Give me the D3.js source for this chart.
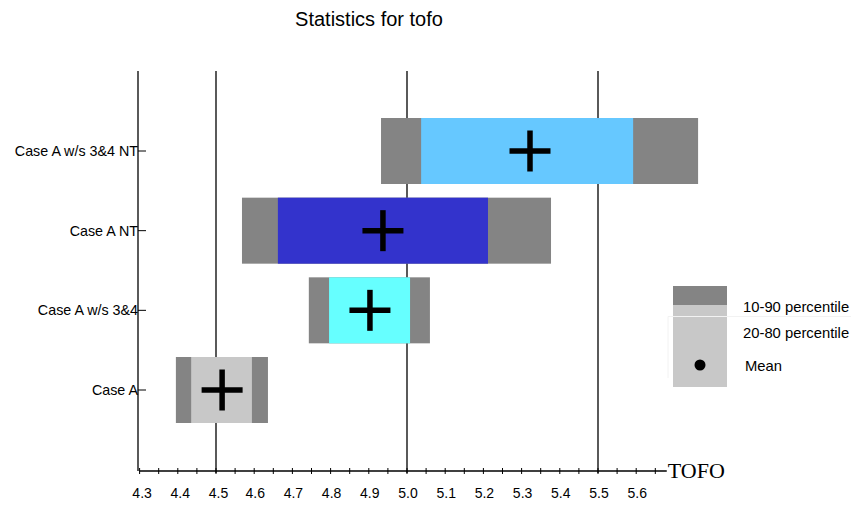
<!DOCTYPE html>
<html>
<head>
<meta charset="utf-8">
<script src="https://cdn.jsdelivr.net/npm/d3@7"></script>
<style>
  body { margin: 0; background: #fff; }
  svg { display: block; font-family: "Liberation Sans", Arial, sans-serif; }
</style>
</head>
<body>
<svg id="chart" width="851" height="507"></svg>
<script>
// Categories, top to bottom
const categories = ["Case A w/s 3&4 NT", "Case A NT", "Case A w/s 3&4", "Case A"];
// Percentile bounds for each case
const p10 = [4.932, 4.568, 4.743, 4.395];
const p20 = [5.037, 4.662, 4.796, 4.435];
const p80 = [5.592, 5.212, 5.008, 4.594];
const p90 = [5.762, 5.377, 5.060, 4.636];
const means = [5.322, 4.937, 4.903, 4.516];
const innerColors = ["#66c8ff", "#3333cc", "#66ffff", "#c8c8c8"];
const gridValues = [4.5, 5.0, 5.5];
const tickLabels = ["4.3","4.4","4.5","4.6","4.7","4.8","4.9","5.0","5.1","5.2","5.3","5.4","5.5","5.6"];
const legendLabels = ["10-90 percentile", "20-80 percentile", "Mean"];

const svg = d3.select("#chart");
const outerGray = "#848484";

const x = d3.scaleLinear().domain([4.5, 5.5]).range([216, 598]);
const y = d3.scalePoint().domain(categories).range([151, 390]);
const barH = 66;
const axisY = 471, topY = 71, leftX = 138;

// Title
svg.append("text")
  .attr("x", 369).attr("y", 26)
  .attr("text-anchor", "middle")
  .attr("font-size", 20)
  .text("Statistics for tofo");

// Vertical reference lines
svg.append("g").selectAll("line").data(gridValues).join("line")
  .attr("x1", d => x(d)).attr("x2", d => x(d))
  .attr("y1", topY).attr("y2", axisY + 2)
  .attr("stroke", "#000").attr("stroke-width", 1.3);

// Left axis line
svg.append("line")
  .attr("x1", leftX).attr("x2", leftX)
  .attr("y1", topY).attr("y2", axisY)
  .attr("stroke", "#000").attr("stroke-width", 1.3);

// Category labels and ticks
const yg = svg.append("g");
yg.selectAll("line").data(categories).join("line")
  .attr("x1", leftX).attr("x2", leftX + 8)
  .attr("y1", d => y(d)).attr("y2", d => y(d))
  .attr("stroke", "#000");
yg.selectAll("text").data(categories).join("text")
  .attr("x", leftX).attr("y", d => y(d) + 5)
  .attr("text-anchor", "end")
  .attr("font-size", 14.3)
  .text(d => d);

// Bars
const rows = categories.map((c, i) => ({c, p10: p10[i], p20: p20[i], p80: p80[i], p90: p90[i], mean: means[i], color: innerColors[i]}));
const bars = svg.append("g").selectAll("g").data(rows).join("g");
bars.append("rect")
  .attr("x", d => x(d.p10)).attr("width", d => x(d.p90) - x(d.p10))
  .attr("y", d => y(d.c) - barH / 2).attr("height", barH)
  .attr("fill", outerGray);
bars.append("rect")
  .attr("x", d => x(d.p20)).attr("width", d => x(d.p80) - x(d.p20))
  .attr("y", d => y(d.c) - barH / 2).attr("height", barH)
  .attr("fill", d => d.color);
// Mean crosses
const cs = 20.5;
bars.append("line")
  .attr("x1", d => x(d.mean) - cs).attr("x2", d => x(d.mean) + cs)
  .attr("y1", d => y(d.c)).attr("y2", d => y(d.c))
  .attr("stroke", "#000").attr("stroke-width", 5.5);
bars.append("line")
  .attr("x1", d => x(d.mean)).attr("x2", d => x(d.mean))
  .attr("y1", d => y(d.c) - cs).attr("y2", d => y(d.c) + cs)
  .attr("stroke", "#000").attr("stroke-width", 5.5);

// Bottom axis
const xAxisG = svg.append("g");
xAxisG.append("line")
  .attr("x1", x(4.3)).attr("x2", x(5.68))
  .attr("y1", axisY).attr("y2", axisY)
  .attr("stroke", "#000").attr("stroke-width", 1.3);
const minorTicks = d3.range(0, 28).map(i => +(4.3 + i * 0.05).toFixed(2));
xAxisG.selectAll("line.tick").data(minorTicks).join("line")
  .attr("class", "tick")
  .attr("x1", d => x(d)).attr("x2", d => x(d))
  .attr("y1", axisY - 3).attr("y2", axisY + 3)
  .attr("stroke", "#000");
xAxisG.selectAll("text").data(tickLabels).join("text")
  .attr("x", (d, i) => x(+d) + (i < 3 ? 2.5 : 1))
  .attr("y", axisY + 27)
  .attr("text-anchor", "middle")
  .attr("font-size", 14)
  .text(d => d);
svg.append("text")
  .attr("x", x(5.68) + 1).attr("y", axisY + 7)
  .attr("font-family", "'Liberation Serif', 'Times New Roman', serif")
  .attr("font-size", 22)
  .text("TOFO");

// Legend
const lg = svg.append("g");
lg.append("rect").attr("x", 673).attr("y", 286).attr("width", 54).attr("height", 19).attr("fill", outerGray);
lg.append("rect").attr("x", 673).attr("y", 305).attr("width", 54).attr("height", 82).attr("fill", "#c8c8c8");
lg.append("path")
  .attr("d", "M668,378 L668,316.5 L851,316.5")
  .attr("fill", "none").attr("stroke", "#f2f2f2").attr("stroke-width", 1);
lg.append("circle").attr("cx", 700).attr("cy", 365).attr("r", 5.5).attr("fill", "#000");
lg.selectAll("text").data(legendLabels).join("text")
  .attr("x", (d, i) => i === 2 ? 745 : 743)
  .attr("y", (d, i) => [312, 338, 371][i])
  .attr("font-size", 14.8)
  .text(d => d);
</script>
</body>
</html>
